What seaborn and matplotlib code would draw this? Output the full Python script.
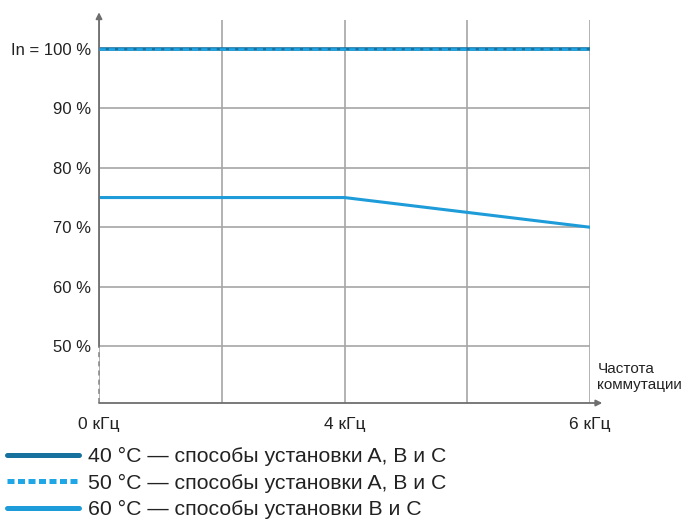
import pandas as pd
import seaborn as sns
import numpy as np
import matplotlib.pyplot as plt
from matplotlib.ticker import FixedLocator

# positions on the (evenly spaced) frequency axis; labels only at 0, 2, 4
freq_pos = [0, 2, 4]
tick_labels = ['0 кГц', '4 кГц', '6 кГц']
pct_ticks = [50, 60, 70, 80, 90, 100]
pct_labels = ['50 %', '60 %', '70 %', '80 %', '90 %', 'In = 100 %']

curve_40 = [100, 100, 100]
curve_50 = [100, 100, 100]
curve_60 = [75, 75, 70]

names = ['40 °C — способы установки A, B и C',
         '50 °C — способы установки A, B и C',
         '60 °C — способы установки B и C']

sns.set_style('white')
plt.rcParams['font.family'] = ['Liberation Sans', 'DejaVu Sans']

grey = '#8c8c8c'
txt = '#222222'

fig = plt.figure(figsize=(6.95, 5.22), dpi=100)
ax = fig.add_axes([99 / 695, 1 - 403 / 522, 491 / 695, 383 / 522])

df = pd.DataFrame({'f': freq_pos * 3,
                   'pct': curve_40 + curve_50 + curve_60,
                   'serie': [names[0]] * 3 + [names[1]] * 3 + [names[2]] * 3})

sns.lineplot(data=df[df.serie == names[0]], x='f', y='pct', color='#17719f', lw=2.6, ax=ax, label=names[0], zorder=3)
sns.lineplot(data=df[df.serie == names[1]], x='f', y='pct', color='#1ea6e6', lw=1.8, ax=ax, label=names[1],
             zorder=4, dashes=False, linestyle=(0, (2.5, 1.2)))
sns.lineplot(data=df[df.serie == names[2]], x='f', y='pct', color='#1e9cd9', lw=2.2, ax=ax, label=names[2], zorder=3)

ax.set_xlim(0, 4)
ax.set_ylim(40.4, 104.9)
ax.xaxis.set_major_locator(FixedLocator(freq_pos))
ax.xaxis.set_minor_locator(FixedLocator([1, 3]))
ax.set_xticklabels(tick_labels)
ax.set_yticks(pct_ticks)
ax.set_yticklabels(pct_labels)
ax.tick_params(axis='both', which='major', length=0, labelsize=12, labelcolor=txt)
ax.tick_params(axis='x', which='major', pad=10, labelsize=12.5)
ax.tick_params(axis='y', which='major', pad=6)
ax.tick_params(axis='x', which='minor', length=5, color=grey, width=1.2, direction='out')
ax.grid(True, which='both', color='#a6a6a6', lw=1.2)
ax.set_xlabel('')
ax.set_ylabel('')
for s in ax.spines.values():
    s.set_visible(False)

# axes with arrows
ax.annotate('', xy=(0, 106.2), xytext=(0, 50), annotation_clip=False,
            arrowprops=dict(arrowstyle='-|>', color='#6e6e6e', lw=1.3, mutation_scale=9, shrinkA=0, shrinkB=0))
ax.annotate('', xy=(4.1, 40.4), xytext=(0, 40.4), annotation_clip=False,
            arrowprops=dict(arrowstyle='-|>', color='#6e6e6e', lw=1.3, mutation_scale=9, shrinkA=0, shrinkB=0))
ax.plot([0, 0], [40.4, 50], color='#8c8c8c', lw=1.2, ls=(0, (3, 2.5)), clip_on=False)

ax.text(4.06, 44.8, 'Частота\nкоммутации', fontsize=11, color=txt, ha='left', va='center', linespacing=1.15)

leg = ax.legend(loc='upper left', bbox_to_anchor=(7 / 695, 1 - 447 / 522), bbox_transform=fig.transFigure,
                frameon=False, fontsize=15.3, handlelength=3.4, handletextpad=0.4, labelspacing=0.36,
                borderpad=0, borderaxespad=0, labelcolor=txt)
for h in leg.legend_handles:
    h.set_linewidth(3.6)
leg.legend_handles[1].set_linestyle((0, (1.4, 0.7)))

fig.savefig('out.png', dpi=100)
